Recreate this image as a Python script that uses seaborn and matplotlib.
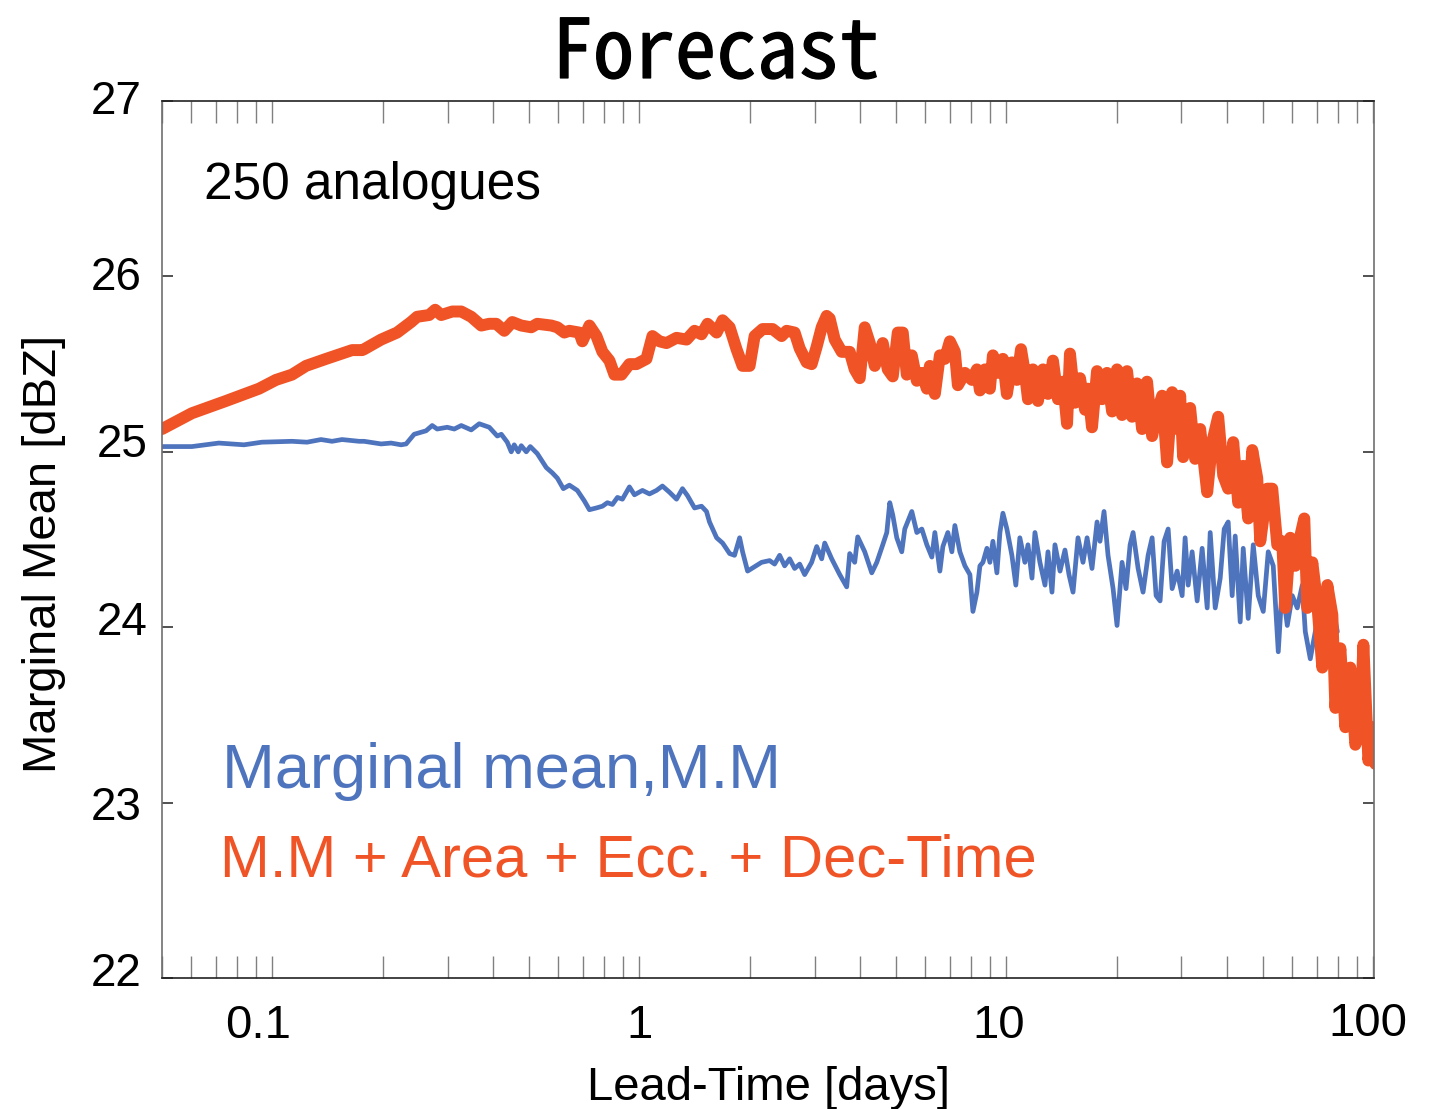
import numpy as np
import pandas as pd
import matplotlib
matplotlib.use("Agg")
import matplotlib.pyplot as plt
from matplotlib import font_manager as fm
from matplotlib import patheffects
from matplotlib.transforms import ScaledTranslation
from matplotlib.ticker import LogLocator, NullFormatter
import seaborn as sns

# Lead time [days] and marginal mean [dBZ] for the plain marginal-mean analogues
lead_mm = [0.05, 0.0603, 0.0714, 0.0836, 0.0936, 0.1130, 0.1242, 0.1356, 0.1453, 0.1547, 0.1722,
           0.1777, 0.1977, 0.2105, 0.2242, 0.2313, 0.2432, 0.2622, 0.2724, 0.2811, 0.2993, 0.3129,
           0.3269, 0.3480, 0.3659, 0.3897, 0.4099, 0.4203, 0.4363, 0.4474, 0.4558, 0.4674, 0.4764,
           0.4916, 0.5041, 0.5267, 0.5575, 0.5789, 0.5974, 0.6203, 0.6442,
           0.6772, 0.7078, 0.7305, 0.7634, 0.7927, 0.8179, 0.8440, 0.8710, 0.8986, 0.9391, 0.9691,
           1.019, 1.065, 1.113, 1.155, 1.207, 1.262, 1.310, 1.352, 1.413, 1.476, 1.523, 1.552,
           1.623, 1.685, 1.761, 1.816, 1.875, 1.910, 1.971, 2.060, 2.152, 2.263, 2.335,
           2.410, 2.487, 2.566, 2.648, 2.733, 2.820, 2.946, 3.041, 3.138, 3.198, 3.341, 3.514,
           3.671, 3.741, 3.860, 3.934, 4.111, 4.296, 4.434, 4.603, 4.721, 4.810, 4.901, 5.026,
           5.186, 5.285, 5.523, 5.700, 5.882, 6.070, 6.263, 6.383, 6.587, 6.712, 6.925, 7.102,
           7.237, 7.468, 7.707, 7.953, 8.105, 8.311, 8.469,
           8.630, 8.849, 9.016, 9.188, 9.421, 9.601, 9.783, 10.03, 10.35, 10.61, 10.88, 11.23,
           11.45, 11.74, 11.96, 12.34, 12.74, 12.98, 13.31, 13.56, 14.00, 14.44, 14.81, 15.19,
           15.67, 16.17, 16.59, 17.11, 17.66, 17.99, 18.45, 18.92, 19.53, 20.02, 20.66, 21.18,
           21.73, 22.14, 22.85, 23.57, 24.33, 24.95, 25.58, 26.23, 26.90, 27.59, 28.29, 29.19,
           30.12,
           30.69, 31.28, 32.07, 33.10, 34.15, 35.25, 35.92, 37.07, 38.25, 39.22, 40.21, 41.23,
           42.02, 43.36, 44.19, 45.60, 47.06, 48.56, 50.11, 51.70, 53.35, 55.06, 56.45, 58.26,
           60.12, 62.04, 64.02, 65.23, 67.31, 69.46, 72.59, 75.39, 77.80, 79.77]
dbz_mm = [25.03, 25.03, 25.05, 25.04, 25.055, 25.06, 25.055, 25.07, 25.06, 25.07, 25.06,
          25.06, 25.045, 25.05, 25.04, 25.045, 25.10, 25.12, 25.15, 25.13, 25.14, 25.13,
          25.15, 25.125, 25.16, 25.14, 25.09, 25.10, 25.055, 25.00, 25.04, 25.00, 25.035,
          25.00, 25.03, 24.99, 24.91, 24.88, 24.85, 24.79, 24.81,
          24.78, 24.72, 24.67, 24.68, 24.69, 24.71, 24.70, 24.74, 24.73, 24.80, 24.755,
          24.78, 24.76, 24.78, 24.805, 24.77, 24.73, 24.79, 24.75, 24.68, 24.69, 24.66, 24.60,
          24.51, 24.48, 24.42, 24.41, 24.51, 24.43, 24.32, 24.345, 24.37, 24.38, 24.36,
          24.41, 24.35, 24.39, 24.335, 24.36, 24.30, 24.37, 24.46, 24.39, 24.48, 24.39, 24.30,
          24.23, 24.42, 24.37, 24.515, 24.43, 24.31, 24.37, 24.47, 24.54, 24.71, 24.64, 24.51,
          24.43, 24.56, 24.66, 24.54, 24.56, 24.47, 24.40, 24.54, 24.32, 24.46, 24.54, 24.43,
          24.58, 24.43, 24.35, 24.30, 24.09, 24.20, 24.35,
          24.37, 24.45, 24.37, 24.49, 24.31, 24.54, 24.65, 24.56, 24.41, 24.24, 24.51, 24.37,
          24.47, 24.28, 24.54, 24.37, 24.24, 24.43, 24.20, 24.47, 24.32, 24.44, 24.30, 24.20,
          24.51, 24.37, 24.51, 24.335, 24.60, 24.49, 24.66, 24.41, 24.22, 24.01, 24.37, 24.22,
          24.47, 24.54, 24.335, 24.20, 24.41, 24.51, 24.18, 24.15, 24.49, 24.56, 24.22, 24.32,
          24.18,
          24.51, 24.24, 24.43, 24.15, 24.45, 24.11, 24.54, 24.11, 24.28, 24.56, 24.60, 24.18,
          24.52, 24.03, 24.45, 24.05, 24.47, 24.18, 24.09, 24.43, 24.35, 23.86, 24.24, 24.01,
          24.18, 24.11, 24.24, 23.975, 23.82, 23.975, 24.18, 24.26, 24.09, 23.975]

# Lead time [days] and marginal mean [dBZ] with area, eccentricity and decimal time added
lead_full = [0.05, 0.0603, 0.0747, 0.0919, 0.1022, 0.1130, 0.1234, 0.1400, 0.1648, 0.1755,
             0.1777, 0.1977, 0.2186, 0.2386, 0.2479, 0.2673, 0.2776, 0.2883, 0.3090, 0.3269,
             0.3480, 0.3706, 0.3897, 0.4072, 0.4283, 0.4502, 0.4764, 0.5073, 0.5267, 0.5753,
             0.5974, 0.6242, 0.6442, 0.6858, 0.6989, 0.7305, 0.7634, 0.7927, 0.8283, 0.8547,
             0.8930, 0.9391, 0.9813, 1.045, 1.085, 1.134, 1.185, 1.262, 1.344, 1.413, 1.476,
             1.533, 1.623, 1.685, 1.761, 1.839, 1.910, 1.996, 2.060, 2.166, 2.306,
             2.440, 2.518, 2.648, 2.733, 2.856, 2.946, 3.041, 3.138, 3.237, 3.299, 3.405, 3.558,
             3.741, 3.860, 3.984, 4.111, 4.243, 4.378, 4.518, 4.603, 4.750, 4.901, 5.058, 5.219,
             5.352, 5.523, 5.700, 5.882, 6.070, 6.186, 6.383, 6.587, 6.796, 7.013, 7.237, 7.375,
             7.707, 8.054, 8.311, 8.469,
             8.739, 9.016, 9.188, 9.480, 9.783, 10.03, 10.35, 10.68, 10.96, 11.23, 11.45, 11.81,
             12.19, 12.58, 12.98, 13.39, 13.82, 14.26, 14.63, 14.90, 15.38, 15.87, 16.38, 16.69,
             17.11, 17.66, 18.22, 18.80, 19.41, 20.02, 20.66, 21.32, 22.00, 22.70, 23.43, 24.17,
             24.95, 25.74, 26.57, 27.41, 28.29, 29.19, 29.75, 30.31,
             30.69, 31.67, 32.68, 33.73, 35.25, 36.37, 37.77, 38.98, 40.21, 41.50, 42.82, 44.19,
             45.60, 46.77, 48.25, 49.17, 51.38, 53.02, 54.71, 56.45, 57.53, 59.37, 61.27, 63.22,
             64.82, 66.06, 68.17, 70.35, 72.59, 74.91, 77.30, 78.78, 81.28, 83.87, 86.54, 89.30,
             92.15, 93.91, 96.91, 100.0, 101.3]
dbz_full = [25.13, 25.22, 25.29, 25.36, 25.41, 25.44, 25.49, 25.53, 25.58, 25.58,
            25.585, 25.64, 25.68, 25.74, 25.77, 25.78, 25.81, 25.78, 25.80, 25.80,
            25.77, 25.72, 25.73, 25.73, 25.69, 25.74, 25.72, 25.71, 25.73, 25.72,
            25.71, 25.68, 25.69, 25.68, 25.63, 25.72, 25.66, 25.57, 25.52, 25.44,
            25.44, 25.50, 25.50, 25.53, 25.66, 25.63, 25.62, 25.65, 25.64, 25.69, 25.67,
            25.73, 25.68, 25.75, 25.71, 25.585, 25.49, 25.49, 25.66, 25.70, 25.70,
            25.66, 25.69, 25.68, 25.59, 25.51, 25.50, 25.60, 25.71, 25.775, 25.76, 25.64, 25.57,
            25.57, 25.47, 25.42, 25.71, 25.62, 25.49, 25.57, 25.62, 25.47, 25.43, 25.68, 25.68,
            25.44, 25.55, 25.405, 25.45, 25.36, 25.49, 25.33, 25.55, 25.53, 25.63, 25.57, 25.38,
            25.45, 25.41, 25.47, 25.35,
            25.47, 25.36, 25.55, 25.45, 25.53, 25.33, 25.51, 25.41, 25.585, 25.45, 25.30, 25.47,
            25.29, 25.47, 25.33, 25.52, 25.30, 25.40, 25.16, 25.56, 25.28, 25.42, 25.24, 25.36,
            25.14, 25.46, 25.30, 25.45, 25.23, 25.47, 25.21, 25.46, 25.20, 25.39, 25.13, 25.40,
            25.09, 25.225, 25.32, 24.94, 25.34, 25.13, 25.32, 24.97,
            25.11, 25.25, 24.96, 25.13, 24.77, 25.055, 25.20, 24.865, 24.79, 25.055, 24.71, 24.92,
            24.62, 25.01, 24.85, 24.49, 24.79, 24.79, 24.47, 24.49, 24.11, 24.51, 24.35, 24.52,
            24.62, 24.11, 24.37, 24.13, 23.77, 24.24, 24.07, 23.54, 23.88, 23.43, 23.77, 23.33,
            23.43, 23.90, 23.24, 23.43, 23.22]

x_ticks = [0.1, 1, 10, 100]
x_tick_labels = ["0.1", "1", "10", "100"]
y_ticks = [22, 23, 24, 25, 26, 27]
y_tick_labels = ["22", "23", "24", "25", "26", "27"]

BLUE = "#4F74BE"
ORANGE = "#F05426"


def pick_family(candidates):
    for name in candidates:
        try:
            fm.findfont(fm.FontProperties(family=name), fallback_to_default=False)
            return name
        except Exception:
            continue
    return "DejaVu Sans"


sns.set_style("white")
sans = pick_family(["Liberation Sans", "Arial", "DejaVu Sans"])
title_font = pick_family(["Noto Sans Mono CJK JP", "Noto Sans Mono CJK SC", "DejaVu Sans Mono"])
plt.rcParams["font.family"] = [sans, "DejaVu Sans"]
plt.rcParams["text.color"] = "black"
plt.rcParams["axes.labelcolor"] = "black"
plt.rcParams["xtick.labelcolor"] = "black"
plt.rcParams["ytick.labelcolor"] = "black"

fig = plt.figure(figsize=(14.35, 11.09), dpi=100)
ax = fig.add_axes([0.1129, 0.1181, 0.8446, 0.7908])

df_mm = pd.DataFrame({"lead": lead_mm, "dbz": dbz_mm})
df_full = pd.DataFrame({"lead": lead_full, "dbz": dbz_full})

sns.lineplot(data=df_mm, x="lead", y="dbz", ax=ax, color=BLUE, lw=3.4,
             estimator=None, sort=False, solid_joinstyle="round")
sns.lineplot(data=df_full, x="lead", y="dbz", ax=ax, color=ORANGE, lw=8.6,
             estimator=None, sort=False, solid_joinstyle="round")

ax.set_xscale("log")
ax.set_xlim(0.05, 100.4)
ax.set_ylim(22, 27)

ax.set_xticks(x_ticks, labels=x_tick_labels)
ax.xaxis.set_minor_locator(LogLocator(base=10, subs=np.arange(2, 10)))
ax.xaxis.set_minor_formatter(NullFormatter())
ax.set_yticks(y_ticks, labels=y_tick_labels)

ax.tick_params(axis="x", which="both", direction="in", top=True, bottom=True,
               length=16, width=1.0, color="#808080", labelsize=34, pad=19)
ax.tick_params(axis="y", which="major", direction="in", left=True, right=True,
               length=8, width=1.1, color="#222222", labelsize=33, pad=15)

# small per-label nudges of the tick labels (pixels at 100 dpi: dx, dy)
x_nudge = {"0.1": (-14, 0), "1": (0, 0), "10": (-8, 0), "100": (-6, 2)}
y_nudge = {"22": (0, 9), "23": (0, 0), "24": (6, 9), "25": (6, 12), "26": (0, 3), "27": (0, 4)}
for lab in ax.get_xticklabels():
    dx, dy = x_nudge.get(lab.get_text(), (0, 0))
    lab.set_transform(lab.get_transform() + ScaledTranslation(dx / 100, dy / 100, fig.dpi_scale_trans))
for lab in ax.get_yticklabels():
    dx, dy = y_nudge.get(lab.get_text(), (0, 0))
    lab.set_transform(lab.get_transform() + ScaledTranslation(dx / 100, dy / 100, fig.dpi_scale_trans))

for side in ("top", "bottom"):
    ax.spines[side].set_color("#222222")
    ax.spines[side].set_linewidth(1.2)
for side in ("left", "right"):
    ax.spines[side].set_color("#707070")
    ax.spines[side].set_linewidth(1.2)

ax.set_xlabel("Lead-Time [days]", fontsize=34)
ax.set_ylabel("Marginal Mean [dBZ]", fontsize=34)
ax.xaxis.set_label_coords(0.5, -0.1)
ax.yaxis.set_label_coords(-0.079, 0.483)

ax.text(0.0347, 0.888, "250 analogues", transform=ax.transAxes, fontsize=37,
        ha="left", va="baseline", color="black")
ax.text(0.0495, 0.2166, "Marginal mean,M.M", transform=ax.transAxes, fontsize=45.5,
        ha="left", va="baseline", color=BLUE)
ax.text(0.0478, 0.1163, "M.M + Area + Ecc. + Dec-Time", transform=ax.transAxes,
        fontsize=43, ha="left", va="baseline", color=ORANGE)

title_size = 59 if "CJK" in title_font else 49
fig.text(0.499, 0.9297, "Forecast", ha="center", va="baseline", fontsize=title_size,
         family=[title_font, "DejaVu Sans Mono"], weight="normal", color="black",
         path_effects=[patheffects.withStroke(linewidth=0.9, foreground="black")])

fig.savefig("out.png", dpi=100)
